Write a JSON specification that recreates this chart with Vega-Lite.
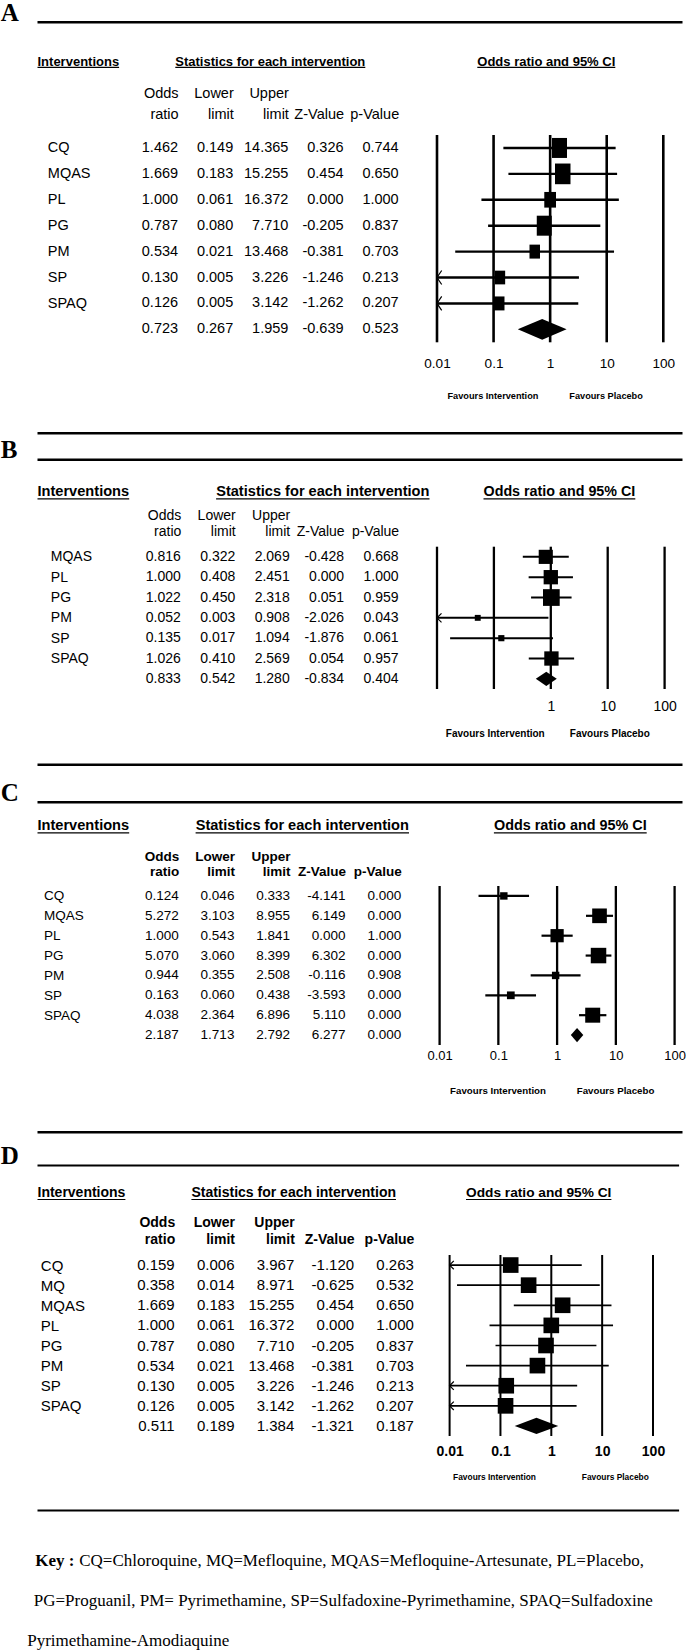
{
"$schema": "https://vega.github.io/schema/vega-lite/v6.json",
"padding": 0,
"background": "white",
"width": 645,
"height": 1651,
"config": {"view": {"stroke": null}, "locale": {"number": {"decimal": ".", "thousands": ",", "grouping": [3], "currency": ["$", ""], "minus": "-"}}, "axis": {"domainColor": "black", "labelColor": "black", "titleColor": "black"}},
"datasets": {
"A": [
{"drug": "CQ", "or": 1.462, "lower": 0.149, "upper": 14.365, "z": 0.326, "p": 0.744, "weight": 80},
{"drug": "MQAS", "or": 1.669, "lower": 0.183, "upper": 15.255, "z": 0.454, "p": 0.650, "weight": 85.6},
{"drug": "PL", "or": 1.000, "lower": 0.061, "upper": 16.372, "z": 0.000, "p": 1.000, "weight": 49},
{"drug": "PG", "or": 0.787, "lower": 0.080, "upper": 7.710, "z": -0.205, "p": 0.837, "weight": 80},
{"drug": "PM", "or": 0.534, "lower": 0.021, "upper": 13.468, "z": -0.381, "p": 0.703, "weight": 39},
{"drug": "SP", "or": 0.130, "lower": 0.005, "upper": 3.226, "z": -1.246, "p": 0.213, "weight": 37.6},
{"drug": "SPAQ", "or": 0.126, "lower": 0.005, "upper": 3.142, "z": -1.262, "p": 0.207, "weight": 39},
{"drug": "Overall", "or": 0.723, "lower": 0.267, "upper": 1.959, "z": -0.639, "p": 0.523}
],
"B": [
{"drug": "MQAS", "or": 0.816, "lower": 0.322, "upper": 2.069, "z": -0.428, "p": 0.668, "weight": 40},
{"drug": "PL", "or": 1.000, "lower": 0.408, "upper": 2.451, "z": 0.000, "p": 1.000, "weight": 41},
{"drug": "PG", "or": 1.022, "lower": 0.450, "upper": 2.318, "z": 0.051, "p": 0.959, "weight": 56},
{"drug": "PM", "or": 0.052, "lower": 0.003, "upper": 0.908, "z": -2.026, "p": 0.043, "weight": 7},
{"drug": "SP", "or": 0.135, "lower": 0.017, "upper": 1.094, "z": -1.876, "p": 0.061, "weight": 7.6},
{"drug": "SPAQ", "or": 1.026, "lower": 0.410, "upper": 2.569, "z": 0.054, "p": 0.957, "weight": 41},
{"drug": "Overall", "or": 0.833, "lower": 0.542, "upper": 1.280, "z": -0.834, "p": 0.404}
],
"C": [
{"drug": "CQ", "or": 0.124, "lower": 0.046, "upper": 0.333, "z": -4.141, "p": 0.000, "weight": 11},
{"drug": "MQAS", "or": 5.272, "lower": 3.103, "upper": 8.955, "z": 6.149, "p": 0.000, "weight": 43},
{"drug": "PL", "or": 1.000, "lower": 0.543, "upper": 1.841, "z": 0.000, "p": 1.000, "weight": 35},
{"drug": "PG", "or": 5.070, "lower": 3.060, "upper": 8.399, "z": 6.302, "p": 0.000, "weight": 48},
{"drug": "PM", "or": 0.944, "lower": 0.355, "upper": 2.508, "z": -0.116, "p": 0.908, "weight": 11},
{"drug": "SP", "or": 0.163, "lower": 0.060, "upper": 0.438, "z": -3.593, "p": 0.000, "weight": 12},
{"drug": "SPAQ", "or": 4.038, "lower": 2.364, "upper": 6.896, "z": 5.110, "p": 0.000, "weight": 45},
{"drug": "Overall", "or": 2.187, "lower": 1.713, "upper": 2.792, "z": 6.277, "p": 0.000}
],
"D": [
{"drug": "CQ", "or": 0.159, "lower": 0.006, "upper": 3.967, "z": -1.120, "p": 0.263, "weight": 49},
{"drug": "MQ", "or": 0.358, "lower": 0.014, "upper": 8.971, "z": -0.625, "p": 0.532, "weight": 49},
{"drug": "MQAS", "or": 1.669, "lower": 0.183, "upper": 15.255, "z": 0.454, "p": 0.650, "weight": 49},
{"drug": "PL", "or": 1.000, "lower": 0.061, "upper": 16.372, "z": 0.000, "p": 1.000, "weight": 49},
{"drug": "PG", "or": 0.787, "lower": 0.080, "upper": 7.710, "z": -0.205, "p": 0.837, "weight": 49},
{"drug": "PM", "or": 0.534, "lower": 0.021, "upper": 13.468, "z": -0.381, "p": 0.703, "weight": 49},
{"drug": "SP", "or": 0.130, "lower": 0.005, "upper": 3.226, "z": -1.246, "p": 0.213, "weight": 49},
{"drug": "SPAQ", "or": 0.126, "lower": 0.005, "upper": 3.142, "z": -1.262, "p": 0.207, "weight": 49},
{"drug": "Overall", "or": 0.511, "lower": 0.189, "upper": 1.384, "z": -1.321, "p": 0.187}
],
"gridlines": [{"tick": 0.01}, {"tick": 0.1}, {"tick": 1}, {"tick": 10}, {"tick": 100}],
"key": [
{"line": "CQ=Chloroquine, MQ=Mefloquine, MQAS=Mefloquine-Artesunate, PL=Placebo,"},
{"line": "PG=Proguanil, PM= Pyrimethamine, SP=Sulfadoxine-Pyrimethamine, SPAQ=Sulfadoxine"},
{"line": "Pyrimethamine-Amodiaquine"}
]
},
"resolve": {"scale": {"x": "independent", "y": "independent"}, "axis": {"x": "independent", "y": "independent"}},
"layer": [
{
"data": {"name": "gridlines"},
"mark": {"type": "rule", "color": "black", "strokeWidth": 2.6},
"encoding": {
"x": {"field": "tick", "type": "quantitative", "scale": {"type": "log", "domain": [0.01, 100], "range": [400, 626.3], "nice": false}, "axis": null},
"y": {"datum": 0, "type": "quantitative", "scale": {"domain": [0, 1], "range": [135, 342.3], "nice": false, "zero": false}, "axis": null},
"y2": {"datum": 1}
}
},
{
"data": {"name": "gridlines"},
"mark": {"type": "rule", "color": "black", "strokeWidth": 2.3},
"encoding": {
"x": {"field": "tick", "type": "quantitative", "scale": {"type": "log", "domain": [0.01, 100], "range": [400, 627.6], "nice": false}, "axis": null},
"y": {"datum": 0, "type": "quantitative", "scale": {"domain": [0, 1], "range": [546.7, 689], "nice": false, "zero": false}, "axis": null},
"y2": {"datum": 1}
}
},
{
"data": {"name": "gridlines"},
"mark": {"type": "rule", "color": "black", "strokeWidth": 2.3},
"encoding": {
"x": {"field": "tick", "type": "quantitative", "scale": {"type": "log", "domain": [0.01, 100], "range": [402.6, 637.6], "nice": false}, "axis": null},
"y": {"datum": 0, "type": "quantitative", "scale": {"domain": [0, 1], "range": [886, 1045], "nice": false, "zero": false}, "axis": null},
"y2": {"datum": 1}
}
},
{
"data": {"name": "gridlines"},
"mark": {"type": "rule", "color": "black", "strokeWidth": 2},
"encoding": {
"x": {"field": "tick", "type": "quantitative", "scale": {"type": "log", "domain": [0.01, 100], "range": [412.6, 616], "nice": false}, "axis": null},
"y": {"datum": 0, "type": "quantitative", "scale": {"domain": [0, 1], "range": [1255, 1436], "nice": false, "zero": false}, "axis": null},
"y2": {"datum": 1}
}
},
{"data": {"values": []}, "mark": "rule", "encoding": {"x": {"field": "u", "type": "quantitative", "scale": {"domain": [0, 1], "range": [0, 81.6]}, "axis": {"orient": "top", "offset": -66.9, "domain": true, "domainWidth": 1.2, "ticks": false, "labels": false, "grid": false, "title": null}}}},
{"data": {"values": []}, "mark": "rule", "encoding": {"x": {"field": "u", "type": "quantitative", "scale": {"domain": [0, 1], "range": [137.8, 327.8]}, "axis": {"orient": "top", "offset": -66.9, "domain": true, "domainWidth": 1.2, "ticks": false, "labels": false, "grid": false, "title": null}}}},
{"data": {"values": []}, "mark": "rule", "encoding": {"x": {"field": "u", "type": "quantitative", "scale": {"domain": [0, 1], "range": [439.8, 577.8]}, "axis": {"orient": "top", "offset": -66.9, "domain": true, "domainWidth": 1.2, "ticks": false, "labels": false, "grid": false, "title": null}}}},
{"data": {"values": []}, "mark": "rule", "encoding": {"x": {"field": "u", "type": "quantitative", "scale": {"domain": [0, 1], "range": [0, 91.7]}, "axis": {"orient": "top", "offset": -498.3, "domain": true, "domainWidth": 1.3, "ticks": false, "labels": false, "grid": false, "title": null}}}},
{"data": {"values": []}, "mark": "rule", "encoding": {"x": {"field": "u", "type": "quantitative", "scale": {"domain": [0, 1], "range": [178.6, 392]}, "axis": {"orient": "top", "offset": -498.3, "domain": true, "domainWidth": 1.3, "ticks": false, "labels": false, "grid": false, "title": null}}}},
{"data": {"values": []}, "mark": "rule", "encoding": {"x": {"field": "u", "type": "quantitative", "scale": {"domain": [0, 1], "range": [446, 597.8]}, "axis": {"orient": "top", "offset": -498.3, "domain": true, "domainWidth": 1.3, "ticks": false, "labels": false, "grid": false, "title": null}}}},
{"data": {"values": []}, "mark": "rule", "encoding": {"x": {"field": "u", "type": "quantitative", "scale": {"domain": [0, 1], "range": [0, 91.7]}, "axis": {"orient": "top", "offset": -832.3, "domain": true, "domainWidth": 1.3, "ticks": false, "labels": false, "grid": false, "title": null}}}},
{"data": {"values": []}, "mark": "rule", "encoding": {"x": {"field": "u", "type": "quantitative", "scale": {"domain": [0, 1], "range": [158.1, 371.5]}, "axis": {"orient": "top", "offset": -832.3, "domain": true, "domainWidth": 1.3, "ticks": false, "labels": false, "grid": false, "title": null}}}},
{"data": {"values": []}, "mark": "rule", "encoding": {"x": {"field": "u", "type": "quantitative", "scale": {"domain": [0, 1], "range": [456.4, 609.2]}, "axis": {"orient": "top", "offset": -832.3, "domain": true, "domainWidth": 1.3, "ticks": false, "labels": false, "grid": false, "title": null}}}},
{"data": {"values": []}, "mark": "rule", "encoding": {"x": {"field": "u", "type": "quantitative", "scale": {"domain": [0, 1], "range": [0, 87.9]}, "axis": {"orient": "top", "offset": -1199, "domain": true, "domainWidth": 1.2, "ticks": false, "labels": false, "grid": false, "title": null}}}},
{"data": {"values": []}, "mark": "rule", "encoding": {"x": {"field": "u", "type": "quantitative", "scale": {"domain": [0, 1], "range": [153.9, 358.5]}, "axis": {"orient": "top", "offset": -1199, "domain": true, "domainWidth": 1.2, "ticks": false, "labels": false, "grid": false, "title": null}}}},
{"data": {"values": []}, "mark": "rule", "encoding": {"x": {"field": "u", "type": "quantitative", "scale": {"domain": [0, 1], "range": [428.5, 573.9]}, "axis": {"orient": "top", "offset": -1199, "domain": true, "domainWidth": 1.2, "ticks": false, "labels": false, "grid": false, "title": null}}}},
{
"data": {"name": "A"},
"resolve": {"scale": {"x": "independent"}, "axis": {"x": "independent"}},
"layer": [
{
"transform": [{"fold": ["or", "lower", "upper", "z", "p"], "as": ["column", "value"]}],
"mark": {"type": "text", "align": "right", "baseline": "middle", "font": "Liberation Sans", "fontSize": 14.5, "color": "black"},
"encoding": {
"x": {"field": "column", "type": "nominal", "scale": {"type": "point", "domain": ["or", "lower", "upper", "z", "p"], "range": [141.1, 361.7], "padding": 0},
"axis": {"orient": "top", "offset": -135, "domain": false, "ticks": false, "tickSize": 0, "labelAngle": 0, "labelAlign": "right", "labelBaseline": "alphabetic", "labelPadding": 37.1, "labelLineHeight": 20.6, "labelFont": "Liberation Sans", "labelFontSize": 14.5,
"labelExpr": "datum.value == 'or' ? ['Odds', 'ratio'] : datum.value == 'lower' ? ['Lower', 'limit'] : datum.value == 'upper' ? ['Upper', 'limit'] : datum.value == 'z' ? ['', 'Z-Value'] : ['', 'p-Value']",
"title": "Statistics for each intervention", "titleX": 232.8, "titleY": -74, "titleAlign": "center", "titleBaseline": "middle", "titleFont": "Liberation Sans", "titleFontSize": 13, "titleFontWeight": "bold"}},
"y": {"field": "drug", "type": "nominal", "scale": {"type": "point", "domain": ["CQ", "MQAS", "PL", "PG", "PM", "SP", "SPAQ", "Overall"], "range": [135, 342.3], "padding": 0.5},
"axis": {"orient": "left", "domain": false, "ticks": false, "tickSize": 0, "labelAlign": "left", "labelBaseline": "middle", "labelPadding": -10.3, "labelFont": "Liberation Sans", "labelFontSize": 14.5, "labelExpr": "datum.value == 'Overall' ? '' : datum.value",
"title": "Interventions", "titleAngle": 0, "titleX": 0, "titleY": 61, "titleAlign": "left", "titleBaseline": "middle", "titleFont": "Liberation Sans", "titleFontSize": 13, "titleFontWeight": "bold"}},
"text": {"field": "value", "type": "quantitative", "format": ".3f"}
}
},
{
"layer": [
{
"transform": [{"filter": "datum.drug != 'Overall'"}],
"mark": {"type": "rule", "color": "black", "strokeWidth": 2.4},
"encoding": {
"x": {"field": "lower", "type": "quantitative", "scale": {"type": "log", "domain": [0.01, 100], "range": [400, 626.3], "clamp": true, "nice": false},
"axis": {"orient": "bottom", "offset": -1308.7, "values": [0.01, 0.1, 1, 10, 100], "format": "~g", "grid": false, "domain": false, "ticks": false, "tickSize": 0, "labelPadding": 21, "labelBaseline": "middle", "labelFlush": false, "labelOverlap": false, "labelFont": "Liberation Sans", "labelFontSize": 13.6,
"title": "Favours Intervention", "titleX": 410, "titleY": 52.7, "titleAlign": "left", "titleBaseline": "middle", "titleFont": "Liberation Sans", "titleFontSize": 9.2, "titleFontWeight": "bold"}},
"x2": {"field": "upper"},
"y": {"field": "drug", "type": "nominal"}
}
},
{
"transform": [{"filter": "datum.drug != 'Overall'"}],
"mark": {"type": "point", "shape": "M-0.75,-1H0.75V1H-0.75Z", "filled": true, "color": "black", "opacity": 1},
"encoding": {
"x": {"field": "or", "type": "quantitative"},
"y": {"field": "drug", "type": "nominal"},
"size": {"field": "weight", "type": "quantitative", "scale": {"domain": [0, 100], "range": [0, 500]}, "legend": null}
}
},
{
"transform": [{"filter": "datum.lower < 0.01"}],
"mark": {"type": "point", "shape": "M0.67,-1L0,0L0.67,1", "filled": false, "color": "black", "strokeWidth": 1.2, "size": 196, "opacity": 1},
"encoding": {
"x": {"datum": 0.01, "type": "quantitative"},
"y": {"field": "drug", "type": "nominal"}
}
},
{
"transform": [{"filter": "datum.drug == 'Overall'"}],
"mark": {"type": "point", "shape": "M-2.36,0L0,-1L2.36,0L0,1Z", "filled": true, "color": "black", "size": 428, "opacity": 1},
"encoding": {
"x": {"field": "or", "type": "quantitative"},
"y": {"field": "drug", "type": "nominal"}
}
}
]
},
{
"data": {"values": []},
"mark": "rule",
"encoding": {"x": {"field": "f", "type": "quantitative", "scale": {"domain": [0, 1]},
"axis": {"orient": "bottom", "offset": -1218.3, "domain": true, "domainWidth": 2.6, "ticks": false, "labels": false, "grid": false,
"title": "Odds ratio and 95% CI", "titleX": 508.8, "titleY": -371.7, "titleAlign": "center", "titleBaseline": "middle", "titleFont": "Liberation Sans", "titleFontSize": 13, "titleFontWeight": "bold"}}}
},
{
"data": {"values": []},
"mark": "rule",
"encoding": {"x": {"field": "g", "type": "quantitative", "scale": {"domain": [0, 1]},
"axis": {"orient": "bottom", "offset": -1308.7, "domain": false, "ticks": false, "labels": false, "grid": false,
"title": "Favours Placebo", "titleX": 531.8, "titleY": 52.7, "titleAlign": "left", "titleBaseline": "middle", "titleFont": "Liberation Sans", "titleFontSize": 9.2, "titleFontWeight": "bold"}}}
},
{
"data": {"values": []},
"mark": "rule",
"encoding": {"x": {"field": "h", "type": "quantitative", "scale": {"domain": [0, 1]},
"axis": {"orient": "top", "offset": -21.7, "domain": true, "domainWidth": 2.6, "ticks": false, "labels": false, "grid": false,
"title": "A", "titleX": -36.7, "titleY": -1.5, "titleAlign": "left", "titleBaseline": "alphabetic", "titleFont": "Liberation Serif", "titleFontSize": 25, "titleFontWeight": "bold"}}}
}
]
},
{
"data": {"name": "B"},
"resolve": {"scale": {"x": "independent"}, "axis": {"x": "independent"}},
"layer": [
{
"transform": [{"fold": ["or", "lower", "upper", "z", "p"], "as": ["column", "value"]}],
"mark": {"type": "text", "align": "right", "baseline": "middle", "font": "Liberation Sans", "fontSize": 14, "color": "black"},
"encoding": {
"x": {"field": "column", "type": "nominal", "scale": {"type": "point", "domain": ["or", "lower", "upper", "z", "p"], "range": [143.8, 361.6], "padding": 0},
"axis": {"orient": "top", "offset": -546.7, "domain": false, "ticks": false, "tickSize": 0, "labelAngle": 0, "labelAlign": "right", "labelBaseline": "alphabetic", "labelPadding": 27.4, "labelLineHeight": 16.4, "labelFont": "Liberation Sans", "labelFontSize": 14,
"labelExpr": "datum.value == 'or' ? ['Odds', 'ratio'] : datum.value == 'lower' ? ['Lower', 'limit'] : datum.value == 'upper' ? ['Upper', 'limit'] : datum.value == 'z' ? ['', 'Z-Value'] : ['', 'p-Value']",
"title": "Statistics for each intervention", "titleX": 285.3, "titleY": -55, "titleAlign": "center", "titleBaseline": "middle", "titleFont": "Liberation Sans", "titleFontSize": 14.6, "titleFontWeight": "bold"}},
"y": {"field": "drug", "type": "nominal", "scale": {"type": "point", "domain": ["MQAS", "PL", "PG", "PM", "SP", "SPAQ", "Overall"], "range": [546.7, 689], "padding": 0.5},
"axis": {"orient": "left", "domain": false, "ticks": false, "tickSize": 0, "labelAlign": "left", "labelBaseline": "middle", "labelPadding": -13.3, "labelFont": "Liberation Sans", "labelFontSize": 14, "labelExpr": "datum.value == 'Overall' ? '' : datum.value",
"title": "Interventions", "titleAngle": 0, "titleX": 0, "titleY": 491.7, "titleAlign": "left", "titleBaseline": "middle", "titleFont": "Liberation Sans", "titleFontSize": 14.6, "titleFontWeight": "bold"}},
"text": {"field": "value", "type": "quantitative", "format": ".3f"}
}
},
{
"layer": [
{
"transform": [{"filter": "datum.drug != 'Overall'"}],
"mark": {"type": "rule", "color": "black", "strokeWidth": 2},
"encoding": {
"x": {"field": "lower", "type": "quantitative", "scale": {"type": "log", "domain": [0.01, 100], "range": [400, 627.6], "clamp": true, "nice": false},
"axis": {"orient": "bottom", "offset": -962, "values": [0.01, 0.1, 1, 10, 100], "format": "~g", "labelExpr": "datum.value >= 1 ? datum.label : ''", "grid": false, "domain": false, "ticks": false, "tickSize": 0, "labelPadding": 17, "labelBaseline": "middle", "labelFlush": false, "labelOverlap": false, "labelFont": "Liberation Sans", "labelFontSize": 14,
"title": "Favours Intervention", "titleX": 408.3, "titleY": 44.3, "titleAlign": "left", "titleBaseline": "middle", "titleFont": "Liberation Sans", "titleFontSize": 10, "titleFontWeight": "bold"}},
"x2": {"field": "upper"},
"y": {"field": "drug", "type": "nominal"}
}
},
{
"transform": [{"filter": "datum.drug != 'Overall'"}],
"mark": {"type": "point", "shape": "square", "filled": true, "color": "black", "opacity": 1},
"encoding": {
"x": {"field": "or", "type": "quantitative"},
"y": {"field": "drug", "type": "nominal"},
"size": {"field": "weight", "type": "quantitative", "scale": {"domain": [0, 100], "range": [0, 500]}, "legend": null}
}
},
{
"transform": [{"filter": "datum.lower < 0.01"}],
"mark": {"type": "point", "shape": "M1,-1L0,0L1,1", "filled": false, "color": "black", "strokeWidth": 1.2, "size": 81, "opacity": 1},
"encoding": {
"x": {"datum": 0.01, "type": "quantitative"},
"y": {"field": "drug", "type": "nominal"}
}
},
{
"transform": [{"filter": "datum.drug == 'Overall'"}],
"mark": {"type": "point", "shape": "M-1.47,0L0,-1L1.47,0L0,1Z", "filled": true, "color": "black", "size": 204, "opacity": 1},
"encoding": {
"x": {"field": "or", "type": "quantitative"},
"y": {"field": "drug", "type": "nominal"}
}
}
]
},
{
"data": {"values": []},
"mark": "rule",
"encoding": {"x": {"field": "f", "type": "quantitative", "scale": {"domain": [0, 1]},
"axis": {"orient": "bottom", "offset": -886.7, "domain": true, "domainWidth": 2.4, "ticks": false, "labels": false, "grid": false,
"title": "Odds ratio and 95% CI", "titleX": 521.9, "titleY": -272.6, "titleAlign": "center", "titleBaseline": "middle", "titleFont": "Liberation Sans", "titleFontSize": 14.3, "titleFontWeight": "bold"}}}
},
{
"data": {"values": []},
"mark": "rule",
"encoding": {"x": {"field": "g", "type": "quantitative", "scale": {"domain": [0, 1]},
"axis": {"orient": "bottom", "offset": -962, "domain": false, "ticks": false, "labels": false, "grid": false,
"title": "Favours Placebo", "titleX": 532.3, "titleY": 44.3, "titleAlign": "left", "titleBaseline": "middle", "titleFont": "Liberation Sans", "titleFontSize": 10, "titleFontWeight": "bold"}}}
},
{
"data": {"values": []},
"mark": "rule",
"encoding": {"x": {"field": "h", "type": "quantitative", "scale": {"domain": [0, 1]},
"axis": {"orient": "top", "offset": -459.3, "domain": true, "domainWidth": 2.4, "ticks": false, "labels": false, "grid": false,
"title": "B", "titleX": -36.7, "titleY": -1.5, "titleAlign": "left", "titleBaseline": "alphabetic", "titleFont": "Liberation Serif", "titleFontSize": 25, "titleFontWeight": "bold"}}}
}
]
},
{
"data": {"name": "C"},
"resolve": {"scale": {"x": "independent"}, "axis": {"x": "independent"}},
"layer": [
{
"transform": [{"fold": ["or", "lower", "upper", "z", "p"], "as": ["column", "value"]}],
"mark": {"type": "text", "align": "right", "baseline": "middle", "font": "Liberation Sans", "fontSize": 13.5, "color": "black"},
"encoding": {
"x": {"field": "column", "type": "nominal", "scale": {"type": "point", "domain": ["or", "lower", "upper", "z", "p"], "range": [141.8, 364.2], "padding": 0},
"axis": {"orient": "top", "offset": -886, "domain": false, "ticks": false, "tickSize": 0, "labelAngle": 0, "labelAlign": "right", "labelBaseline": "alphabetic", "labelPadding": 25.5, "labelLineHeight": 15.3, "labelFont": "Liberation Sans", "labelFontSize": 13.5, "labelFontWeight": "bold",
"labelExpr": "datum.value == 'or' ? ['Odds', 'ratio'] : datum.value == 'lower' ? ['Lower', 'limit'] : datum.value == 'upper' ? ['Upper', 'limit'] : datum.value == 'z' ? ['', 'Z-Value'] : ['', 'p-Value']",
"title": "Statistics for each intervention", "titleX": 264.8, "titleY": -60.3, "titleAlign": "center", "titleBaseline": "middle", "titleFont": "Liberation Sans", "titleFontSize": 14.6, "titleFontWeight": "bold"}},
"y": {"field": "drug", "type": "nominal", "scale": {"type": "point", "domain": ["CQ", "MQAS", "PL", "PG", "PM", "SP", "SPAQ", "Overall"], "range": [886, 1045], "padding": 0.5},
"axis": {"orient": "left", "domain": false, "ticks": false, "tickSize": 0, "labelAlign": "left", "labelBaseline": "middle", "labelPadding": -6.6, "labelFont": "Liberation Sans", "labelFontSize": 13.5, "labelExpr": "datum.value == 'Overall' ? '' : datum.value",
"title": "Interventions", "titleAngle": 0, "titleX": 0, "titleY": 825.7, "titleAlign": "left", "titleBaseline": "middle", "titleFont": "Liberation Sans", "titleFontSize": 14.6, "titleFontWeight": "bold"}},
"text": {"field": "value", "type": "quantitative", "format": ".3f"}
}
},
{
"layer": [
{
"transform": [{"filter": "datum.drug != 'Overall'"}],
"mark": {"type": "rule", "color": "black", "strokeWidth": 2.2},
"encoding": {
"x": {"field": "lower", "type": "quantitative", "scale": {"type": "log", "domain": [0.01, 100], "range": [402.6, 637.6], "clamp": true, "nice": false},
"axis": {"orient": "bottom", "offset": -606, "values": [0.01, 0.1, 1, 10, 100], "format": "~g", "grid": false, "domain": false, "ticks": false, "tickSize": 0, "labelPadding": 10, "labelBaseline": "middle", "labelFlush": false, "labelOverlap": false, "labelFont": "Liberation Sans", "labelFontSize": 13,
"title": "Favours Intervention", "titleX": 412.6, "titleY": 45.7, "titleAlign": "left", "titleBaseline": "middle", "titleFont": "Liberation Sans", "titleFontSize": 9.7, "titleFontWeight": "bold"}},
"x2": {"field": "upper"},
"y": {"field": "drug", "type": "nominal"}
}
},
{
"transform": [{"filter": "datum.drug != 'Overall'"}],
"mark": {"type": "point", "shape": "square", "filled": true, "color": "black", "opacity": 1},
"encoding": {
"x": {"field": "or", "type": "quantitative"},
"y": {"field": "drug", "type": "nominal"},
"size": {"field": "weight", "type": "quantitative", "scale": {"domain": [0, 100], "range": [0, 500]}, "legend": null}
}
},
{
"transform": [{"filter": "datum.drug == 'Overall'"}],
"mark": {"type": "point", "shape": "M-0.874,0L0,-1L0.874,0L0,1Z", "filled": true, "color": "black", "size": 204, "opacity": 1},
"encoding": {
"x": {"field": "or", "type": "quantitative"},
"y": {"field": "drug", "type": "nominal"}
}
}
]
},
{
"data": {"values": []},
"mark": "rule",
"encoding": {"x": {"field": "f", "type": "quantitative", "scale": {"domain": [0, 1]},
"axis": {"orient": "bottom", "offset": -519.3, "domain": true, "domainWidth": 2.4, "ticks": false, "labels": false, "grid": false,
"title": "Odds ratio and 95% CI", "titleX": 532.8, "titleY": -306, "titleAlign": "center", "titleBaseline": "middle", "titleFont": "Liberation Sans", "titleFontSize": 14.4, "titleFontWeight": "bold"}}}
},
{
"data": {"values": []},
"mark": "rule",
"encoding": {"x": {"field": "g", "type": "quantitative", "scale": {"domain": [0, 1]},
"axis": {"orient": "bottom", "offset": -606, "domain": false, "ticks": false, "labels": false, "grid": false,
"title": "Favours Placebo", "titleX": 539.3, "titleY": 45.7, "titleAlign": "left", "titleBaseline": "middle", "titleFont": "Liberation Sans", "titleFontSize": 9.7, "titleFontWeight": "bold"}}}
},
{
"data": {"values": []},
"mark": "rule",
"encoding": {"x": {"field": "h", "type": "quantitative", "scale": {"domain": [0, 1]},
"axis": {"orient": "top", "offset": -801.7, "domain": true, "domainWidth": 2.4, "ticks": false, "labels": false, "grid": false,
"title": "C", "titleX": -36.7, "titleY": -1.5, "titleAlign": "left", "titleBaseline": "alphabetic", "titleFont": "Liberation Serif", "titleFontSize": 25, "titleFontWeight": "bold"}}}
}
]
},
{
"data": {"name": "D"},
"resolve": {"scale": {"x": "independent"}, "axis": {"x": "independent"}},
"layer": [
{
"transform": [{"fold": ["or", "lower", "upper", "z", "p"], "as": ["column", "value"]}],
"mark": {"type": "text", "align": "right", "baseline": "middle", "font": "Liberation Sans", "fontSize": 15, "color": "black"},
"encoding": {
"x": {"field": "column", "type": "nominal", "scale": {"type": "point", "domain": ["or", "lower", "upper", "z", "p"], "range": [137.7, 376.9], "padding": 0},
"axis": {"orient": "top", "offset": -1255, "domain": false, "ticks": false, "tickSize": 0, "labelAngle": 0, "labelAlign": "right", "labelBaseline": "alphabetic", "labelPadding": 29, "labelLineHeight": 17.3, "labelFont": "Liberation Sans", "labelFontSize": 14, "labelFontWeight": "bold",
"labelExpr": "datum.value == 'or' ? ['Odds', 'ratio'] : datum.value == 'lower' ? ['Lower', 'limit'] : datum.value == 'upper' ? ['Upper', 'limit'] : datum.value == 'z' ? ['', 'Z-Value'] : ['', 'p-Value']",
"title": "Statistics for each intervention", "titleX": 256.2, "titleY": -62.3, "titleAlign": "center", "titleBaseline": "middle", "titleFont": "Liberation Sans", "titleFontSize": 14, "titleFontWeight": "bold"}},
"y": {"field": "drug", "type": "nominal", "scale": {"type": "point", "domain": ["CQ", "MQ", "MQAS", "PL", "PG", "PM", "SP", "SPAQ", "Overall"], "range": [1255, 1436], "padding": 0.5},
"axis": {"orient": "left", "domain": false, "ticks": false, "tickSize": 0, "labelAlign": "left", "labelBaseline": "middle", "labelPadding": -3.3, "labelFont": "Liberation Sans", "labelFontSize": 15, "labelExpr": "datum.value == 'Overall' ? '' : datum.value",
"title": "Interventions", "titleAngle": 0, "titleX": 0, "titleY": 1192.7, "titleAlign": "left", "titleBaseline": "middle", "titleFont": "Liberation Sans", "titleFontSize": 14, "titleFontWeight": "bold"}},
"text": {"field": "value", "type": "quantitative", "format": ".3f"}
}
},
{
"layer": [
{
"transform": [{"filter": "datum.drug != 'Overall'"}],
"mark": {"type": "rule", "color": "black", "strokeWidth": 1.7},
"encoding": {
"x": {"field": "lower", "type": "quantitative", "scale": {"type": "log", "domain": [0.01, 100], "range": [412.6, 616], "clamp": true, "nice": false},
"axis": {"orient": "bottom", "offset": -215, "values": [0.01, 0.1, 1, 10, 100], "format": "~g", "grid": false, "domain": false, "ticks": false, "tickSize": 0, "labelPadding": 15, "labelBaseline": "middle", "labelFlush": false, "labelOverlap": false, "labelFont": "Liberation Sans", "labelFontSize": 14, "labelFontWeight": "bold",
"title": "Favours Intervention", "titleX": 415.6, "titleY": 40.7, "titleAlign": "left", "titleBaseline": "middle", "titleFont": "Liberation Sans", "titleFontSize": 8.4, "titleFontWeight": "bold"}},
"x2": {"field": "upper"},
"y": {"field": "drug", "type": "nominal"}
}
},
{
"transform": [{"filter": "datum.drug != 'Overall'"}],
"mark": {"type": "point", "shape": "square", "filled": true, "color": "black", "opacity": 1},
"encoding": {
"x": {"field": "or", "type": "quantitative"},
"y": {"field": "drug", "type": "nominal"},
"size": {"field": "weight", "type": "quantitative", "scale": {"domain": [0, 100], "range": [0, 500]}, "legend": null}
}
},
{
"transform": [{"filter": "datum.lower < 0.01"}],
"mark": {"type": "point", "shape": "M1,-1L0,0L1,1", "filled": false, "color": "black", "strokeWidth": 1.2, "size": 70, "opacity": 1},
"encoding": {
"x": {"datum": 0.01, "type": "quantitative"},
"y": {"field": "drug", "type": "nominal"}
}
},
{
"transform": [{"filter": "datum.drug == 'Overall'"}],
"mark": {"type": "point", "shape": "M-2.67,0L0,-1L2.67,0L0,1Z", "filled": true, "color": "black", "size": 266, "opacity": 1},
"encoding": {
"x": {"field": "or", "type": "quantitative"},
"y": {"field": "drug", "type": "nominal"}
}
}
]
},
{
"data": {"values": []},
"mark": "rule",
"encoding": {"x": {"field": "f", "type": "quantitative", "scale": {"domain": [0, 1], "range": [0, 641.6]},
"axis": {"orient": "bottom", "offset": -141, "domain": true, "domainWidth": 2.2, "ticks": false, "labels": false, "grid": false,
"title": "Odds ratio and 95% CI", "titleX": 501.2, "titleY": -317.3, "titleAlign": "center", "titleBaseline": "middle", "titleFont": "Liberation Sans", "titleFontSize": 13.7, "titleFontWeight": "bold"}}}
},
{
"data": {"values": []},
"mark": "rule",
"encoding": {"x": {"field": "g", "type": "quantitative", "scale": {"domain": [0, 1]},
"axis": {"orient": "bottom", "offset": -215, "domain": false, "ticks": false, "labels": false, "grid": false,
"title": "Favours Placebo", "titleX": 544.3, "titleY": 40.7, "titleAlign": "left", "titleBaseline": "middle", "titleFont": "Liberation Sans", "titleFontSize": 8.4, "titleFontWeight": "bold"}}}
},
{
"data": {"values": []},
"mark": "rule",
"encoding": {"x": {"field": "h", "type": "quantitative", "scale": {"domain": [0, 1], "range": [0, 641.6]},
"axis": {"orient": "top", "offset": -1165, "domain": true, "domainWidth": 2.2, "ticks": false, "labels": false, "grid": false,
"title": "D", "titleX": -36.7, "titleY": -1.5, "titleAlign": "left", "titleBaseline": "alphabetic", "titleFont": "Liberation Serif", "titleFontSize": 25, "titleFontWeight": "bold"}}}
}
]
},
{
"data": {"name": "key"},
"mark": {"type": "text", "text": ""},
"encoding": {
"y": {"field": "line", "type": "nominal", "sort": null, "scale": {"type": "point", "range": [1560, 1640], "padding": 0},
"axis": {"orient": "left", "domain": false, "ticks": false, "tickSize": 0, "labelAlign": "left", "labelBaseline": "middle", "labelLimit": 0, "labelFont": "Liberation Serif", "labelFontSize": 17,
"labelPadding": {"condition": [{"test": "indexof(datum.value, 'CQ=') == 0", "value": -41.7}, {"test": "indexof(datum.value, 'PG=') == 0", "value": 3.7}], "value": 10.3},
"title": "Key :", "titleAngle": 0, "titleX": -2.3, "titleY": 1560, "titleAlign": "left", "titleBaseline": "middle", "titleFont": "Liberation Serif", "titleFontSize": 17, "titleFontWeight": "bold"}}
}
}
]
}
